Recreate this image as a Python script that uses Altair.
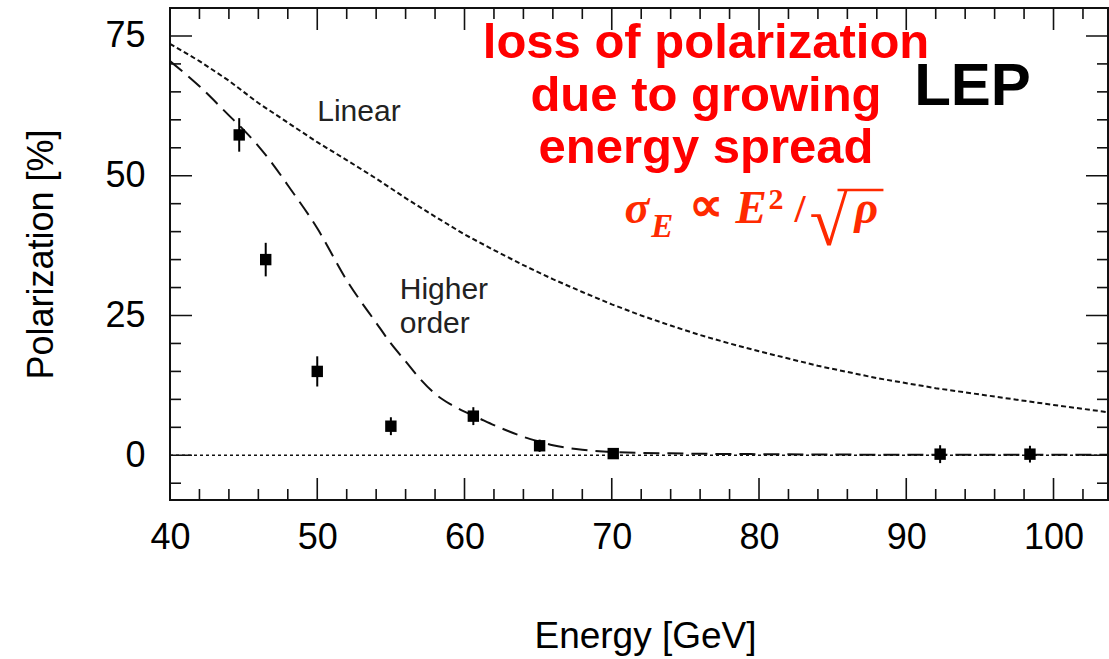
import altair as alt
import pandas as pd

# ---------------- data ----------------
energy_pts = [44.7, 46.5, 50.0, 55.0, 60.6, 65.1, 70.1, 92.3, 98.4]
pol_pts = [57.3, 35.0, 15.0, 5.2, 7.0, 1.7, 0.3, 0.2, 0.2]
pol_err = [3.0, 3.0, 2.7, 1.6, 1.6, 1.1, 0.9, 1.6, 1.5]

lin_E = [40, 42, 44, 46, 48, 50, 52, 54, 56, 58, 60, 62, 64, 66, 68, 70, 72, 74,
         76, 78, 80, 84, 88, 92, 96, 100, 104]
lin_P = [73.6, 70.5, 67.0, 63.0, 59.5, 56.0, 52.8, 49.5, 46.0, 42.7, 39.5, 36.7,
         34.0, 31.5, 29.2, 27.0, 25.0, 23.2, 21.5, 20.0, 18.6, 16.0, 13.8, 12.0,
         10.5, 9.0, 7.6]

ho_E = [40, 42, 44, 45, 46, 47, 48, 50, 52, 54, 55, 56, 57, 58, 59, 60, 61, 62,
        63, 64, 65, 66, 68, 70, 75, 80, 90, 104]
ho_P = [70.5, 66.0, 60.8, 58.2, 55.3, 52.0, 48.3, 40.6, 31.3, 23.7, 20.0, 16.8,
        13.6, 11.0, 9.2, 7.8, 6.6, 5.4, 4.3, 3.3, 2.5, 1.8, 1.0, 0.6, 0.3, 0.2,
        0.1, 0.1]

zero_E = [40, 104]
zero_P = [0, 0]

x_major = [40, 50, 60, 70, 80, 90, 100]
x_minor = [42, 44, 46, 48, 52, 54, 56, 58, 62, 64, 66, 68, 72, 74, 76, 78,
           82, 84, 86, 88, 92, 94, 96, 98, 102]
y_major = [0, 25, 50, 75]
y_minor = [-5, 5, 10, 15, 20, 30, 35, 40, 45, 55, 60, 65, 70]

# annotation texts
red_lines = ["loss of polarization", "due to growing", "energy spread"]
red_x = [76.4, 76.4, 76.4]
red_y = [71.1, 61.5, 52.3]

curve_labels = ["Linear", "Higher", "order"]
curve_lab_x = [50.0, 55.6, 55.6]
curve_lab_y = [59.8, 28.0, 21.8]

formula_txt = ["σ", "E", "∝", "E", "2", "/", "√", "ρ"]
formula_x = [70.86, 72.69, 75.27, 78.40, 80.65, 82.41, 83.43, 86.48]
formula_y = [41.56, 39.05, 41.9, 41.56, 44.0, 41.73, 37.6, 41.56]
formula_size = [46, 33, 48, 47, 30, 40, 70, 46]
formula_italic = [True, True, False, True, False, False, False, True]

overline_x = [85.33]
overline_x2 = [88.45]
overline_y = [47.46]

W, H = 938, 492
XDOM = [40, 103.7]
YDOM = [-8, 80]
FONT = "Liberation Sans"
INK = "#111"

xs = alt.Scale(domain=XDOM, nice=False, zero=False)
ys = alt.Scale(domain=YDOM, nice=False, zero=False)

AX = alt.Axis(
    values=x_major, ticks=False, tickSize=0, domain=False, grid=False,
    labelFlush=False, labelFontSize=36, labelFont=FONT, labelColor="#000",
    labelPadding=20, title="Energy [GeV]", titleFontSize=37, titleFont=FONT,
    titleFontWeight="normal", titleColor="#000", titleX=475, titleY=147,
    titleBaseline="alphabetic", titleAlign="center")
AY = alt.Axis(
    values=y_major, ticks=False, tickSize=0, domain=False, grid=False,
    labelFlush=False, labelFontSize=36, labelFont=FONT, labelColor="#000",
    labelPadding=25, title="Polarization [%]", titleFontSize=36, titleFont=FONT,
    titleFontWeight="normal", titleColor="#000", titleX=-118, titleY=246,
    titleBaseline="alphabetic", titleAlign="center")


def X(field):
    return alt.X(field, type="quantitative", scale=xs, axis=AX, title="Energy [GeV]")


def Y(field):
    return alt.Y(field, type="quantitative", scale=ys, axis=AY, title="Polarization [%]")


pts_df = pd.DataFrame({"E": energy_pts, "P": pol_pts, "err": pol_err})
pts_df["lo"] = pts_df["P"] - pts_df["err"]
pts_df["hi"] = pts_df["P"] + pts_df["err"]

zero = alt.Chart(pd.DataFrame({"E": zero_E, "P": zero_P})).mark_line(
    color=INK, strokeWidth=1.5, strokeDash=[3, 3], clip=True
).encode(x=X("E"), y=Y("P"))


def x_ticks(values, length, edge):
    return alt.Chart(pd.DataFrame({"v": values})).mark_tick(
        orient="vertical", size=2 * length, thickness=1.6, color=INK, opacity=1, clip=True
    ).encode(
        x=X("v"),
        y=alt.YDatum(edge, type="quantitative", scale=ys, axis=AY, title="Polarization [%]"),
    )


def y_ticks(values, length, edge):
    return alt.Chart(pd.DataFrame({"v": values})).mark_tick(
        orient="horizontal", size=2 * length, thickness=1.6, color=INK, opacity=1, clip=True
    ).encode(
        y=Y("v"),
        x=alt.XDatum(edge, type="quantitative", scale=xs, axis=AX, title="Energy [GeV]"),
    )


ticks = [
    x_ticks(x_major, 22, YDOM[0]), x_ticks(x_minor, 11, YDOM[0]),
    x_ticks(x_major, 22, YDOM[1]), x_ticks(x_minor, 11, YDOM[1]),
    y_ticks(y_major, 22, XDOM[0]), y_ticks(y_minor, 11, XDOM[0]),
    y_ticks(y_major, 22, XDOM[1]), y_ticks(y_minor, 11, XDOM[1]),
]

linear = alt.Chart(pd.DataFrame({"E": lin_E, "P": lin_P})).mark_line(
    color=INK, strokeWidth=2, strokeDash=[5, 3], clip=True
).encode(x=X("E"), y=Y("P"))

higher = alt.Chart(pd.DataFrame({"E": ho_E, "P": ho_P})).mark_line(
    color=INK, strokeWidth=2, strokeDash=[16, 8], clip=True, interpolate="monotone"
).encode(x=X("E"), y=Y("P"))

errbars = alt.Chart(pts_df).mark_rule(color="#000", strokeWidth=2).encode(
    x=X("E"), y=Y("lo"), y2="hi:Q",
)

points = alt.Chart(pts_df).mark_point(
    shape="square", filled=True, size=130, color="#000", opacity=1
).encode(x=X("E"), y=Y("P"))

red_text = alt.Chart(pd.DataFrame({"t": red_lines, "x": red_x, "y": red_y})).mark_text(
    font=FONT, fontSize=49, fontWeight="bold", color="#ff0000",
    align="center", baseline="alphabetic"
).encode(x=X("x"), y=Y("y"), text="t:N")

curve_text = alt.Chart(pd.DataFrame({"t": curve_labels, "x": curve_lab_x, "y": curve_lab_y})).mark_text(
    font=FONT, fontSize=30, color="#222", align="left", baseline="alphabetic"
).encode(x=X("x"), y=Y("y"), text="t:N")

lep_text = alt.Chart(pd.DataFrame({"t": ["LEP"], "x": [94.5], "y": [62.7]})).mark_text(
    font=FONT, fontSize=60, fontWeight="bold", color="#000",
    align="center", baseline="alphabetic"
).encode(x=X("x"), y=Y("y"), text="t:N")

formula_df = pd.DataFrame({"t": formula_txt, "x": formula_x, "y": formula_y,
                           "s": formula_size, "it": formula_italic})


def formula_layer(italic):
    return alt.Chart(formula_df).transform_filter(
        alt.datum.it == italic
    ).mark_text(
        font="Liberation Serif", fontWeight="bold", color="#ff2a00",
        fontStyle="italic" if italic else "normal",
        align="left", baseline="alphabetic"
    ).encode(
        x=X("x"), y=Y("y"), text="t:N",
        size=alt.Size("s:Q", scale=None, legend=None),
    )


overline = alt.Chart(pd.DataFrame({"x": overline_x, "x2": overline_x2, "y": overline_y})).mark_rule(
    color="#ff2a00", strokeWidth=2.5
).encode(x=X("x"), x2="x2:Q", y=Y("y"))

chart = alt.layer(
    zero, *ticks, linear, higher, errbars, points,
    red_text, curve_text, lep_text, formula_layer(True), formula_layer(False), overline
).properties(
    width=W, height=H,
    padding={"left": 170, "top": 8, "right": 1, "bottom": 159},
    autosize=alt.AutoSizeParams(type="none"),
).configure_view(stroke=INK, strokeWidth=2)

chart.save("out.html", embed_options={"renderer": "svg", "actions": False})
